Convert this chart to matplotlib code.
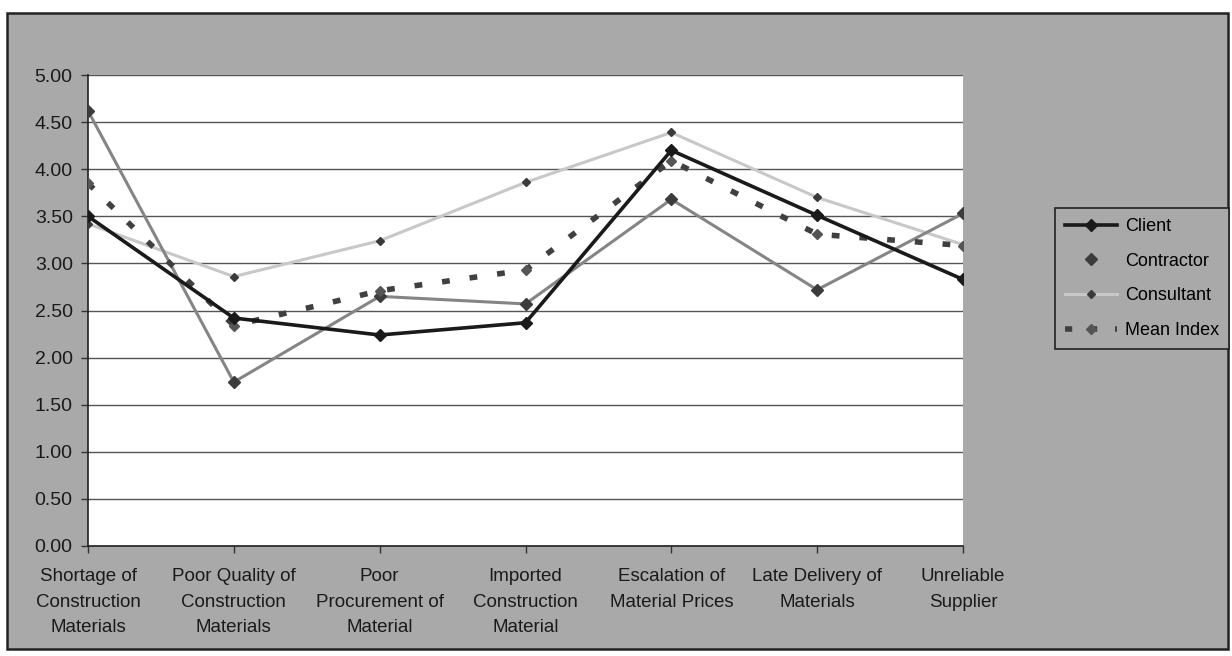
import matplotlib
matplotlib.use("Agg")
import matplotlib.pyplot as plt
from matplotlib.patches import Rectangle
from matplotlib.lines import Line2D

# Categories and survey scores
categories = [
    "Shortage of\nConstruction\nMaterials",
    "Poor Quality of\nConstruction\nMaterials",
    "Poor\nProcurement of\nMaterial",
    "Imported\nConstruction\nMaterial",
    "Escalation of\nMaterial Prices",
    "Late Delivery of\nMaterials",
    "Unreliable\nSupplier",
]
client = [3.50, 2.42, 2.24, 2.37, 4.20, 3.51, 2.83]
contractor = [4.62, 1.74, 2.65, 2.57, 3.68, 2.72, 3.53]
consultant = [3.42, 2.86, 3.24, 3.86, 4.39, 3.70, 3.20]
mean_index = [3.85, 2.34, 2.71, 2.93, 4.09, 3.31, 3.19]
y_ticks = [0.0, 0.5, 1.0, 1.5, 2.0, 2.5, 3.0, 3.5, 4.0, 4.5, 5.0]

W, H = 1232, 656
bg_gray = "#a9a9a9"
font = ["Liberation Sans", "DejaVu Sans"]
plt.rcParams["font.family"] = font

fig = plt.figure(figsize=(W / 100, H / 100), dpi=100)
fig.patch.set_facecolor("white")

# grey chart frame, kept behind the axes
fig.patches.append(Rectangle((7 / W, 1 - 649 / H), 1221 / W, 636 / H,
                             transform=fig.transFigure, facecolor=bg_gray,
                             edgecolor="#222222", linewidth=1.8, zorder=-5))

ax = fig.add_axes([88 / W, 1 - 546 / H, 875 / W, 471 / H])
ax.set_zorder(2)
ax.set_facecolor("white")

x = list(range(len(categories)))

mean_dash = (0, (1.4, 3.6))
ax.plot(x, mean_index, color="#404040", linewidth=4.0,
        linestyle=mean_dash, dash_capstyle="butt",
        marker="D", markersize=5, markerfacecolor="#555555",
        markeredgecolor="#555555", label="Mean Index", zorder=4)
ax.plot(x, consultant, color="#c8c8c8", linewidth=2.2,
        marker="D", markersize=4.5, markerfacecolor="#3a3a3a",
        markeredgecolor="#3a3a3a", label="Consultant", zorder=3)
ax.plot(x, contractor, color="#858585", linewidth=2.2,
        marker="D", markersize=6, markerfacecolor="#3c3c3c",
        markeredgecolor="#3c3c3c", label="Contractor", zorder=3)
ax.plot(x, client, color="#1a1a1a", linewidth=2.6,
        marker="D", markersize=6.5, markerfacecolor="#1a1a1a",
        markeredgecolor="#1a1a1a", label="Client", zorder=5)

ax.set_xlim(0, len(categories) - 1)
ax.set_ylim(0, 5)
ax.set_yticks(y_ticks)
ax.set_yticklabels(["%.2f" % v for v in y_ticks], fontsize=14, color="#1a1a1a")
ax.set_xticks(x)
ax.set_xticklabels(categories, fontsize=13.5, color="#1a1a1a", linespacing=1.65)
ax.yaxis.grid(True, color="#555555", linewidth=1.0)
ax.set_axisbelow(True)
ax.tick_params(axis="y", length=5, width=1, color="#333333", pad=6)
ax.tick_params(axis="x", length=5, width=1, color="#333333", pad=11)

for side in ["top", "right"]:
    ax.spines[side].set_visible(False)
ax.spines["left"].set_color("#222222")
ax.spines["bottom"].set_color("#222222")
ax.spines["left"].set_linewidth(1.2)
ax.spines["bottom"].set_linewidth(1.2)

# legend (contractor shown as marker only, like the original)
handles = [
    Line2D([], [], color="#1a1a1a", linewidth=2.6, marker="D", markersize=6.5),
    Line2D([], [], linestyle="none", marker="D", markersize=6,
           markerfacecolor="#3c3c3c", markeredgecolor="#3c3c3c"),
    Line2D([], [], color="#c8c8c8", linewidth=2.2, marker="D", markersize=4.5,
           markerfacecolor="#3a3a3a", markeredgecolor="#3a3a3a"),
    Line2D([], [], color="#404040", linewidth=4.0, linestyle=(0, (1.3, 3.2)),
           marker="D", markersize=5, markerfacecolor="#555555",
           markeredgecolor="#555555"),
]
labels = ["Client", "Contractor", "Consultant", "Mean Index"]
leg = fig.legend(handles, labels, loc="upper left",
                 bbox_to_anchor=(1055 / W, 1 - 208 / H),
                 fontsize=13, frameon=True, fancybox=False,
                 facecolor=bg_gray, edgecolor="#222222", framealpha=1,
                 handlelength=2.9, handletextpad=0.45, labelspacing=0.98,
                 borderpad=0.55, borderaxespad=0)
leg.get_frame().set_linewidth(1.2)

fig.savefig("out.png", dpi=100)
